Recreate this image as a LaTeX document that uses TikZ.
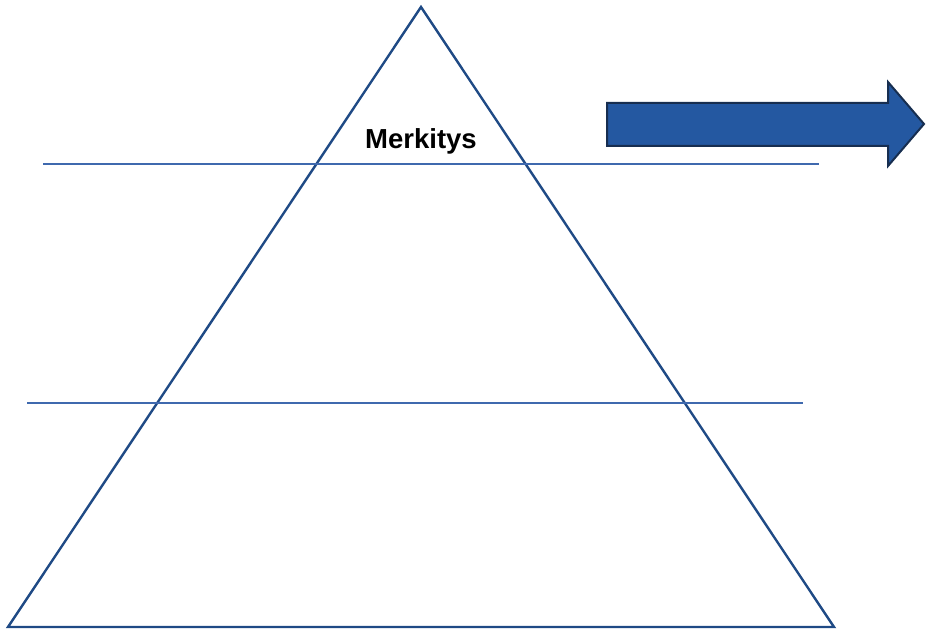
\documentclass[tikz,border=0pt]{standalone}
\usepackage{fontspec}
\setmainfont{Liberation Sans}
\definecolor{triblue}{HTML}{1F4A85}
\definecolor{lineblue}{HTML}{3F69AE}
\definecolor{arrowfill}{HTML}{2458A1}
\definecolor{arrowedge}{HTML}{172E50}
\tikzset{
  tri/.style={draw=triblue, line width=2.4pt, line join=miter},
  level/.style={draw=lineblue, line width=1.5pt},
  bigarrow/.style={draw=arrowedge, fill=arrowfill, line width=2pt, line join=miter},
  label/.style={font=\bfseries\fontsize{27.5}{32}\selectfont, text=black, inner sep=0pt}
}
\begin{document}
\begin{tikzpicture}[x=1pt,y=-1pt]
\useasboundingbox (0,0) rectangle (926,631);
% triangle
\coordinate (apex) at (421,7);
\coordinate (bl) at (8,627);
\coordinate (br) at (834,627);
\draw[tri] (apex) -- (br) -- (bl) -- cycle;
% level lines
\coordinate (l1a) at (43,164);
\coordinate (l1b) at (819,164);
\coordinate (l2a) at (27,403);
\coordinate (l2b) at (803,403);
\draw[level] (l1a) -- (l1b);
\draw[level] (l2a) -- (l2b);
% arrow
\draw[bigarrow] (607,103) -- (888,103) -- (888,82) -- (924,124) -- (888,166) -- (888,146) -- (607,146) -- cycle;
% label
\node[label, anchor=base] (merk) at (421,149) {Merkitys};
\end{tikzpicture}
\end{document}
